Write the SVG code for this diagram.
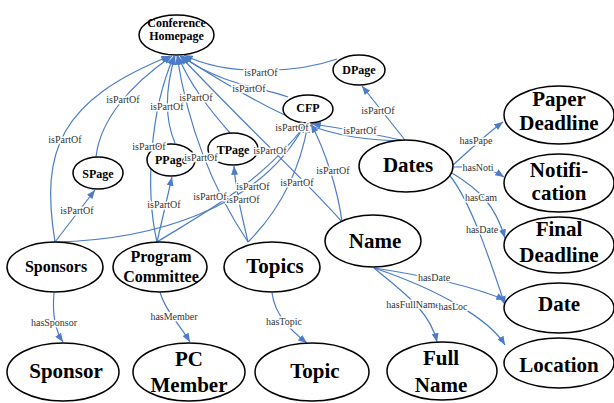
<svg xmlns="http://www.w3.org/2000/svg" width="614" height="403" viewBox="0 0 614 403">
<style>
.e{fill:none;stroke:#4a7cc9;stroke-width:1.2;marker-end:url(#a)}
.n ellipse{fill:#fff;stroke:#000;stroke-width:1.5}
.n text{font-family:"Liberation Serif","Times New Roman",serif;font-weight:bold;text-anchor:middle;fill:#000}
.s text{font-size:12px}
.m text{font-size:16px}
.l text{font-size:21px}
.lb text{font-family:"Liberation Serif","Times New Roman",serif;font-size:10px;fill:#333;text-anchor:middle;stroke:#fff;stroke-width:3;paint-order:stroke;stroke-linejoin:round}
</style>
<defs>
<marker id="a" viewBox="0 0 10 8" refX="10" refY="4" markerWidth="9" markerHeight="7" orient="auto" markerUnits="userSpaceOnUse"><path d="M0,0 L10,4 L0,8z" fill="#4a7cc9"/></marker>
</defs>
<rect width="614" height="403" fill="#fff"/>
<g id="connectors">
<path class="e" d="M55,242 C40,150 60,100 170,56"/>
<path class="e" d="M96,157 C100,120 130,85 172,56"/>
<path class="e" d="M157,242 C145,190 150,110 174,56"/>
<path class="e" d="M175,143 C165,120 165,90 175,56"/>
<path class="e" d="M248,242 C220,200 190,140 177,56"/>
<path class="e" d="M230,133 C210,110 190,85 178,56"/>
<path class="e" d="M342,222 C310,185 260,140 180,56"/>
<path class="e" d="M405,141 C330,140 290,125 181,56"/>
<path class="e" d="M288,97 C265,88 220,85 182,56"/>
<path class="e" d="M337,59 C300,72 230,78 184,55"/>
<path class="e" d="M405,141 C370,133 340,128 312,124"/>
<path class="e" d="M342,222 C338,190 325,150 311,124"/>
<path class="e" d="M55,242 C150,240 260,210 305,124"/>
<path class="e" d="M157,242 C200,215 260,185 306,124"/>
<path class="e" d="M248,242 C280,210 300,170 308,124"/>
<path class="e" d="M248,242 C242,215 236,195 234,166"/>
<path class="e" d="M157,242 L172,177"/>
<path class="e" d="M55,242 L95,190"/>
<path class="e" d="M405,140 L362,86"/>
<path class="e" d="M453,165 C470,150 485,135 503,122"/>
<path class="e" d="M454,167 C475,166 490,168 504,177"/>
<path class="e" d="M452,173 C480,190 495,205 505,238"/>
<path class="e" d="M450,176 C470,200 490,260 505,305"/>
<path class="e" d="M374,268 C420,275 470,285 505,300"/>
<path class="e" d="M374,268 C400,290 430,310 437,342"/>
<path class="e" d="M374,268 C440,290 490,320 505,345"/>
<path class="e" d="M54,293 C52,315 55,330 63,342"/>
<path class="e" d="M160,292 C165,310 180,325 190,342"/>
<path class="e" d="M272,293 C275,315 290,330 307,343"/>
</g>
<g id="conference-homepage" class="n s"><ellipse cx="176.5" cy="35" rx="37.5" ry="20"/><text x="176.5" y="27">Conference</text><text x="176.5" y="40">Homepage</text></g>
<g id="dpage" class="n s"><ellipse cx="359" cy="70" rx="26" ry="15"/><text x="359" y="74">DPage</text></g>
<g id="cfp" class="n s"><ellipse cx="308" cy="109" rx="25" ry="14"/><text x="308" y="112">CFP</text></g>
<g id="spage" class="n s"><ellipse cx="98" cy="173" rx="25" ry="16"/><text x="98" y="178">SPage</text></g>
<g id="ppage" class="n s"><ellipse cx="171" cy="160" rx="24" ry="16"/><text x="171" y="164">PPage</text></g>
<g id="tpage" class="n s"><ellipse cx="233" cy="149" rx="25" ry="16"/><text x="233" y="154">TPage</text></g>
<g id="dates" class="n l"><ellipse cx="406" cy="166" rx="47" ry="26"/><text x="408" y="172">Dates</text></g>
<g id="paper-deadline" class="n l"><ellipse cx="559" cy="115" rx="55" ry="29"/><text x="559" y="106">Paper</text><text x="559" y="130">Deadline</text></g>
<g id="notification" class="n l"><ellipse cx="559" cy="183" rx="55" ry="29"/><text x="559" y="177">Notifi-</text><text x="559" y="200">cation</text></g>
<g id="final-deadline" class="n l"><ellipse cx="559" cy="245" rx="55" ry="28"/><text x="559" y="236">Final</text><text x="559" y="262">Deadline</text></g>
<g id="date" class="n l"><ellipse cx="559" cy="308" rx="55" ry="25"/><text x="559" y="311">Date</text></g>
<g id="location" class="n l"><ellipse cx="559" cy="363" rx="55" ry="25"/><text x="559" y="372">Location</text></g>
<g id="name" class="n l"><ellipse cx="373" cy="241" rx="48" ry="26"/><text x="375" y="248">Name</text></g>
<g id="full-name" class="n l"><ellipse cx="442" cy="371" rx="55" ry="29"/><text x="441" y="365">Full</text><text x="441" y="392">Name</text></g>
<g id="sponsors" class="n m"><ellipse cx="55" cy="267" rx="48" ry="25"/><text x="56" y="272">Sponsors</text></g>
<g id="program-committee" class="n m"><ellipse cx="160" cy="267" rx="47" ry="25"/><text x="161" y="262">Program</text><text x="161" y="282">Committee</text></g>
<g id="topics" class="n l"><ellipse cx="272" cy="267" rx="48" ry="25"/><text x="275" y="273">Topics</text></g>
<g id="sponsor" class="n l"><ellipse cx="63" cy="372" rx="56" ry="29"/><text x="66" y="378">Sponsor</text></g>
<g id="pc-member" class="n l"><ellipse cx="189" cy="372" rx="56" ry="29"/><text x="189" y="366">PC</text><text x="189" y="392">Member</text></g>
<g id="topic" class="n l"><ellipse cx="312" cy="372" rx="57" ry="29"/><text x="315" y="378">Topic</text></g>
<g id="edge-labels" class="lb">
<text x="65" y="143">isPartOf</text>
<text x="123" y="103">isPartOf</text>
<text x="149" y="150">isPartOf</text>
<text x="167" y="110">isPartOf</text>
<text x="196" y="101">isPartOf</text>
<text x="201" y="161">isPartOf</text>
<text x="270" y="154">isPartOf</text>
<text x="292" y="131">isPartOf</text>
<text x="249" y="92">isPartOf</text>
<text x="261" y="76">isPartOf</text>
<text x="360" y="134">isPartOf</text>
<text x="333" y="174">isPartOf</text>
<text x="243" y="203">isPartOf</text>
<text x="210" y="200">isPartOf</text>
<text x="297" y="186">isPartOf</text>
<text x="253" y="190">isPartOf</text>
<text x="164" y="208">isPartOf</text>
<text x="77" y="214">isPartOf</text>
<text x="378" y="114">isPartOf</text>
<text x="476" y="144">hasPape</text>
<text x="478" y="171">hasNoti</text>
<text x="481" y="201">hasCam</text>
<text x="482" y="233">hasDate</text>
<text x="434" y="281">hasDate</text>
<text x="413" y="308">hasFullName</text>
<text x="453" y="310">hasLoc</text>
<text x="54" y="326">hasSponsor</text>
<text x="174" y="320">hasMember</text>
<text x="284" y="325">hasTopic</text>
</g>
</svg>
